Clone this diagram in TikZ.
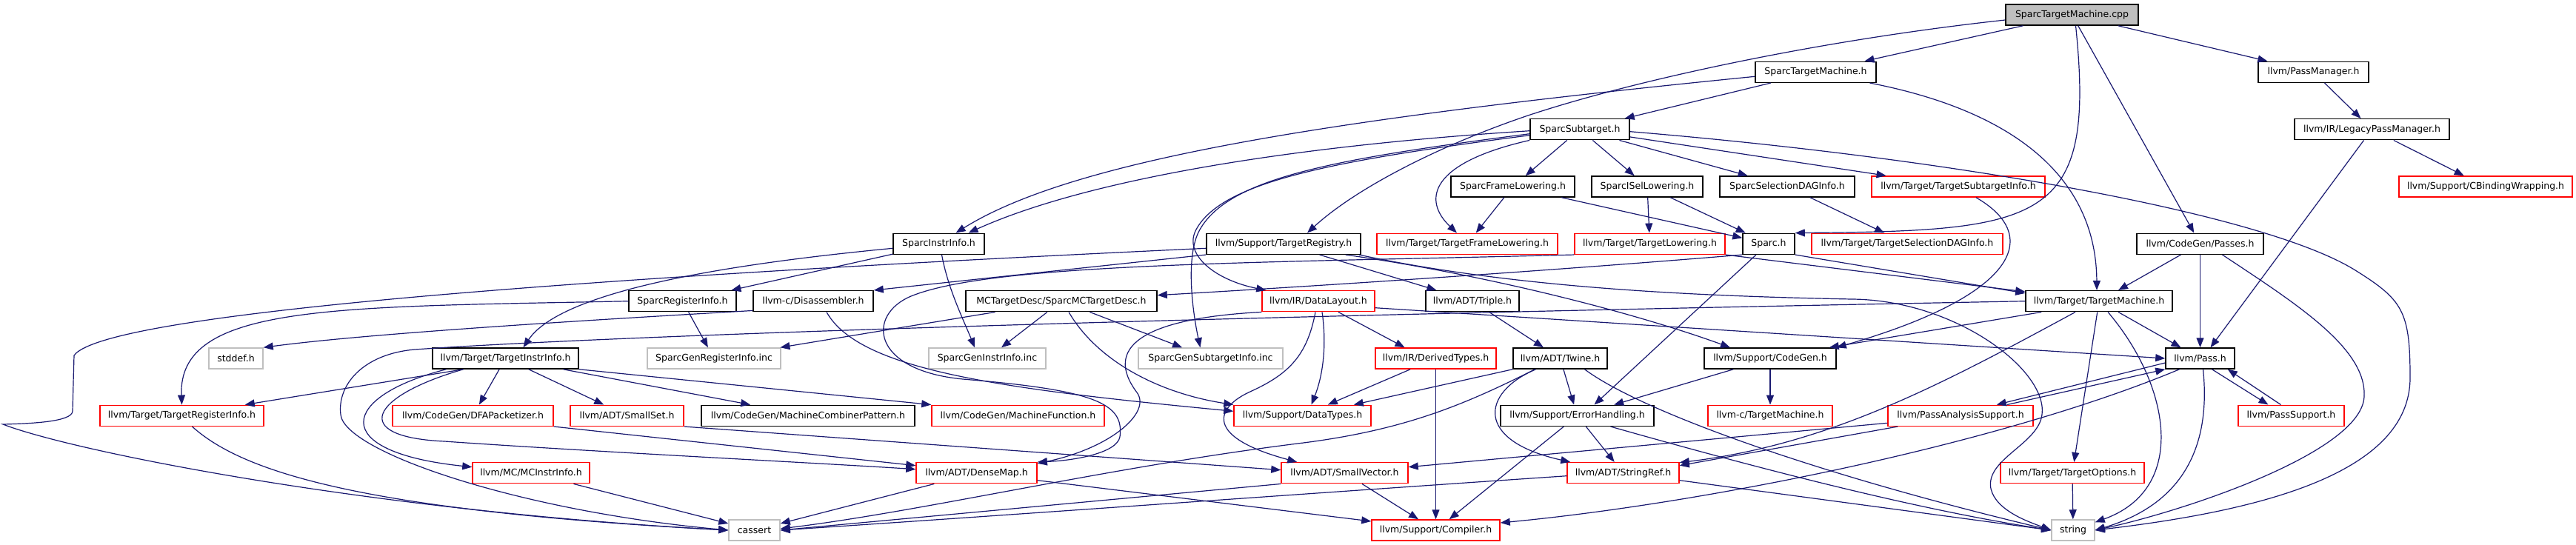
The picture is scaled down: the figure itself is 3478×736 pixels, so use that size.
\documentclass[tikz,border=0pt]{standalone}
\usepackage{fontspec}
\setmainfont{DejaVu Sans}
\usetikzlibrary{arrows.meta}
\definecolor{edgeblue}{HTML}{191970}
\definecolor{sysgray}{HTML}{BFBFBF}

\begin{document}
\begin{tikzpicture}[x=1pt, y=-1pt,
  box/.style={draw, line width=1.5pt, fill=white, minimum height=28pt, inner xsep=2pt, inner ysep=0pt, font=\fontsize{12.5pt}{15pt}\selectfont},
  trunc/.style={box, draw=red},
  sys/.style={box, draw=sysgray},
  cur/.style={box, fill=sysgray},
  arr/.style={-{Triangle[length=13pt, width=10pt]}, edgeblue, line width=1.2pt}
]
\fill[white] (0,0) rectangle (3478,736);
\useasboundingbox (0,0) rectangle (3478,736);

\node[cur, minimum width=179pt] (cpp) at (2797.5,20) {SparcTargetMachine.cpp};
\node[box, minimum width=163pt] (stm) at (2451.5,97.3) {SparcTargetMachine.h};
\node[box, minimum width=149pt] (pm) at (3123.5,97.3) {llvm/PassManager.h};
\node[box, minimum width=134pt] (sub) at (2133,174.7) {SparcSubtarget.h};
\node[box, minimum width=209pt] (lpm) at (3202.5,174.7) {llvm/IR/LegacyPassManager.h};
\node[box, minimum width=167pt] (sfl) at (2042.5,252) {SparcFrameLowering.h};
\node[box, minimum width=150pt] (sisel) at (2224,252) {SparcISelLowering.h};
\node[box, minimum width=182pt] (sdag) at (2413,252) {SparcSelectionDAGInfo.h};
\node[trunc, minimum width=234pt] (tsi) at (2644,252) {llvm/Target/TargetSubtargetInfo.h};
\node[trunc, minimum width=234pt] (cbw) at (3356,252) {llvm/Support/CBindingWrapping.h};
\node[box, minimum width=123pt] (sii) at (1267.5,329.3) {SparcInstrInfo.h};
\node[box, minimum width=208pt] (treg) at (1733,329.3) {llvm/Support/TargetRegistry.h};
\node[trunc, minimum width=244pt] (tfl) at (1981,329.3) {llvm/Target/TargetFrameLowering.h};
\node[trunc, minimum width=203pt] (tl) at (2227.5,329.3) {llvm/Target/TargetLowering.h};
\node[box, minimum width=70pt] (sparc) at (2388,329.3) {Sparc.h};
\node[trunc, minimum width=258pt] (tsdag) at (2575,329.3) {llvm/Target/TargetSelectionDAGInfo.h};
\node[box, minimum width=171pt] (passes) at (2970.5,329.3) {llvm/CodeGen/Passes.h};
\node[box, minimum width=145pt] (sri) at (921.5,406.7) {SparcRegisterInfo.h};
\node[box, minimum width=162pt] (dis) at (1098,406.7) {llvm-c/Disassembler.h};
\node[box, minimum width=258pt] (mctd) at (1433,406.7) {MCTargetDesc/SparcMCTargetDesc.h};
\node[trunc, minimum width=152pt] (dl) at (1780,406.7) {llvm/IR/DataLayout.h};
\node[box, minimum width=126pt] (triple) at (1988,406.7) {llvm/ADT/Triple.h};
\node[box, minimum width=198pt] (tm) at (2834,406.7) {llvm/Target/TargetMachine.h};
\node[sys, minimum width=73pt] (stddef) at (318.5,484) {stddef.h};
\node[box, minimum width=197pt] (tii) at (682.5,484) {llvm/Target/TargetInstrInfo.h};
\node[sys, minimum width=180pt] (sgri) at (964,484) {SparcGenRegisterInfo.inc};
\node[sys, minimum width=158pt] (sgii) at (1333,484) {SparcGenInstrInfo.inc};
\node[sys, minimum width=195pt] (sgsi) at (1634.5,484) {SparcGenSubtargetInfo.inc};
\node[trunc, minimum width=163pt] (dt) at (1938.5,484) {llvm/IR/DerivedTypes.h};
\node[box, minimum width=127pt] (twine) at (2106.5,484) {llvm/ADT/Twine.h};
\node[box, minimum width=178pt] (cg) at (2390,484) {llvm/Support/CodeGen.h};
\node[box, minimum width=93pt] (pass) at (2970.5,484) {llvm/Pass.h};
\node[trunc, minimum width=221pt] (tri) at (245.5,561.3) {llvm/Target/TargetRegisterInfo.h};
\node[trunc, minimum width=217pt] (dfa) at (638.5,561.3) {llvm/CodeGen/DFAPacketizer.h};
\node[trunc, minimum width=153pt] (sset) at (846.5,561.3) {llvm/ADT/SmallSet.h};
\node[box, minimum width=288pt] (mcp) at (1091,561.3) {llvm/CodeGen/MachineCombinerPattern.h};
\node[trunc, minimum width=233pt] (mf) at (1374.5,561.3) {llvm/CodeGen/MachineFunction.h};
\node[trunc, minimum width=185pt] (dtypes) at (1758.5,561.3) {llvm/Support/DataTypes.h};
\node[box, minimum width=207pt] (eh) at (2129.5,561.3) {llvm/Support/ErrorHandling.h};
\node[trunc, minimum width=168pt] (ctm) at (2390,561.3) {llvm-c/TargetMachine.h};
\node[trunc, minimum width=196pt] (pas) at (2647,561.3) {llvm/PassAnalysisSupport.h};
\node[trunc, minimum width=143pt] (ps) at (3093.5,561.3) {llvm/PassSupport.h};
\node[trunc, minimum width=158pt] (mcii) at (717,638.7) {llvm/MC/MCInstrInfo.h};
\node[trunc, minimum width=163pt] (dm) at (1318.5,638.7) {llvm/ADT/DenseMap.h};
\node[trunc, minimum width=171pt] (sv) at (1815.5,638.7) {llvm/ADT/SmallVector.h};
\node[trunc, minimum width=151pt] (sref) at (2191.5,638.7) {llvm/ADT/StringRef.h};
\node[trunc, minimum width=194pt] (topt) at (2798,638.7) {llvm/Target/TargetOptions.h};
\node[sys, minimum width=69pt] (cassert) at (1018.5,716) {cassert};
\node[trunc, minimum width=173pt] (comp) at (1938.5,716) {llvm/Support/Compiler.h};
\node[sys, minimum width=58pt] (string) at (2799,716) {string};

\draw[arr] (cpp) -- (stm);
\draw[arr] ([yshift=-7pt]cpp.west) .. controls (2450,55) and (2200,110) .. (2060,157) .. controls (1940,198) and (1830,255) .. ([xshift=32pt]treg.north);
\draw[arr] ([xshift=5pt]cpp.south) .. controls (2830,300) and (2760,312) .. (sparc.north east);
\draw[arr] (cpp) -- (passes);
\draw[arr] (cpp) -- (pm);
\draw[arr] (stm) -- (sub);
\draw[arr] ([yshift=-6pt]stm.west) .. controls (1800,160) and (1450,215) .. ([xshift=23pt]sii.north);
\draw[arr] ([xshift=73pt]stm.south) .. controls (2720,150) and (2830,240) .. ([xshift=-3pt]tm.north);
\draw[arr] (pm) -- (lpm);
\draw[arr] (lpm) -- (cbw);
\draw[arr] ([xshift=-11pt]lpm.south) -- ([xshift=14pt]pass.north);
\draw[arr] (sub) -- (sfl);
\draw[arr] (sub) -- (sisel);
\draw[arr] (sub) -- (sdag);
\draw[arr] (sub) -- (tsi);
\draw[arr] ([yshift=-3pt]sub.east) .. controls (2650,215) and (3060,290) .. (3180,365) .. controls (3244,405) and (3254,420) .. (3254,510) .. controls (3254,640) and (3050,690) .. (string.east);
\draw[arr] ([yshift=-2pt]sub.west) .. controls (1700,200) and (1450,250) .. ([xshift=40pt]sii.north);
\draw[arr] (sub.south west) .. controls (1930,220) and (1920,270) .. ([xshift=-14pt]tfl.north);
\draw[arr] ([yshift=-6pt]sub.west) .. controls (1800,215) and (1660,240) .. (1620,310) .. controls (1600,345) and (1610,420) .. ([xshift=-14pt]sgsi.north);
\draw[arr] ([yshift=-8pt]sub.west) .. controls (1800,217) and (1650,245) .. (1615,310) .. controls (1597,343) and (1640,378) .. ([xshift=6pt]dl.north west);
\draw[arr] (sfl) -- (tfl);
\draw[arr] (sfl) -- (sparc);
\draw[arr] (sisel) -- (tl);
\draw[arr] (sisel) -- (sparc);
\draw[arr] (sdag) -- (tsdag);
\draw[arr] ([xshift=24pt]tsi.south) .. controls (2760,320) and (2720,400) .. (cg.north east);
\draw[arr] (sii) -- (sri);
\draw[arr] ([yshift=-6pt]sii.west) .. controls (1000,355) and (760,390) .. ([xshift=24pt]tii.north);
\draw[arr] ([xshift=4pt]sii.south) .. controls (1280,390) and (1300,430) .. ([xshift=-17pt]sgii.north);
\draw[arr] (treg.south west) -- (dis.north east);
\draw[arr] (treg) -- (triple);
\draw[arr] ([xshift=-21pt]treg.south east) .. controls (2000,370) and (2200,420) .. ([xshift=-54pt]cg.north);
\draw[arr] ([xshift=-3pt]treg.south east) .. controls (2050,390) and (2300,400) .. (2500,404) .. controls (2640,405) and (2765,500) .. (2757,560) .. controls (2752,600) and (2680,620) .. (2688,660) .. controls (2695,690) and (2740,705) .. (string.west);
\draw[arr] ([yshift=-6pt]treg.west) .. controls (1100,360) and (150,410) .. (100,480) -- (98,555) .. controls (98,570) and (40,572) .. (4,573) .. controls (100,610) and (500,690) .. (cassert.west);
\draw[arr] (tl.south east) -- ([yshift=-2pt]tm.north west);
\draw[arr] (tl.south west) .. controls (1700,355) and (1340,355) .. (1230,400) .. controls (1170,425) and (1175,500) .. (1300,512) .. controls (1480,527) and (1518,545) .. (1512,590) .. controls (1508,612) and (1450,622) .. (dm.north east);
\draw[arr] (sparc.south west) .. controls (2100,365) and (1800,385) .. ([yshift=8pt]mctd.east);
\draw[arr] ([xshift=-17pt]sparc.south) -- ([xshift=23pt]eh.north);
\draw[arr] (sparc.south east) -- ([yshift=-4pt]tm.north west);
\draw[arr] (passes) -- (pass);
\draw[arr] (passes) -- (tm);
\draw[arr] ([xshift=30pt]passes.south) .. controls (3100,410) and (3195,470) .. (3192,535) .. controls (3190,610) and (2950,690) .. (string.east);
\draw[arr] (sri) -- (sgri);
\draw[arr] (sri.west) .. controls (450,415) and (240,410) .. (tri.north);
\draw[arr] ([yshift=2pt]dis.south west) .. controls (800,432) and (500,450) .. (stddef.north east);
\draw[arr] ([xshift=18pt]dis.south) .. controls (1160,500) and (1350,525) .. ([yshift=6pt]dtypes.west);
\draw[arr] (mctd) -- (sgri);
\draw[arr] (mctd) -- (sgii);
\draw[arr] (mctd) -- (sgsi);
\draw[arr] ([xshift=10pt]mctd.south) .. controls (1480,485) and (1560,530) .. (dtypes.north west);
\draw[arr] ([xshift=27pt]dl.south) -- ([xshift=-42pt]dt.north);
\draw[arr] ([xshift=5pt]dl.south) .. controls (1792,470) and (1785,510) .. ([xshift=12pt]dtypes.north);
\draw[arr] ([xshift=-4pt]dl.south) .. controls (1765,480) and (1740,505) .. (1690,528) .. controls (1640,550) and (1625,590) .. ([xshift=22pt]sv.north west);
\draw[arr] (dl.south west) .. controls (1540,430) and (1490,470) .. (1535,530) .. controls (1555,557) and (1500,605) .. ([yshift=-2pt]dm.north east);
\draw[arr] ([yshift=-9pt]dl.east) -- (pass.west);
\draw[arr] (triple) -- (twine);
\draw[arr] ([xshift=22pt]tm.south west) -- ([xshift=-10pt]cg.north east);
\draw[arr] (tm) -- (pass);
\draw[arr] (tm) -- (topt);
\draw[arr] ([xshift=12pt]tm.south) .. controls (2930,520) and (2955,660) .. ([yshift=-4pt]string.north east);
\draw[arr] ([xshift=-32pt]tm.south) .. controls (2620,520) and (2470,600) .. ([yshift=14pt]sref.east);
\draw[arr] (tm.west) .. controls (1500,430) and (800,455) .. (560,472) .. controls (490,478) and (455,520) .. (460,560) .. controls (465,610) and (700,690) .. (cassert.west);
\draw[arr] ([xshift=-57pt]tii.south) -- ([xshift=-26pt]tri.north east);
\draw[arr] (tii) -- (dfa);
\draw[arr] (tii) -- (sset);
\draw[arr] (tii) -- (mcp);
\draw[arr] (tii.south east) -- (mf.north west);
\draw[arr] ([xshift=-80pt]tii.south) .. controls (460,535) and (440,610) .. ([yshift=8pt]mcii.west);
\draw[arr] ([xshift=-57pt]tii.south) .. controls (500,535) and (470,590) .. (600,596) .. controls (800,610) and (1100,625) .. ([yshift=5pt]dm.west);
\draw[arr] (dt) -- (dtypes);
\draw[arr] (dt) -- (comp);
\draw[arr] (twine.south west) -- ([xshift=-24pt]dtypes.north east);
\draw[arr] (twine) -- (eh);
\draw[arr] ([xshift=-33pt]twine.south) .. controls (2000,530) and (1990,595) .. ([xshift=5pt]sref.north west);
\draw[arr] ([xshift=-34pt]twine.south) .. controls (1980,545) and (1900,580) .. (1760,598) .. controls (1500,630) and (1250,690) .. ([yshift=2pt]cassert.east);
\draw[arr] ([xshift=33pt]twine.south) .. controls (2215,555) and (2450,640) .. (string.west);
\draw[arr] (cg) -- (eh);
\draw[arr] (cg) -- (ctm);
\draw[arr] ([yshift=-6pt]pass.west) -- ([xshift=-50pt]pas.north east);
\draw[arr] ([xshift=16pt]pass.south) -- ([xshift=-31pt]ps.north);
\draw[arr] ([xshift=-28pt]pass.south) .. controls (2700,600) and (2300,680) .. ([yshift=10pt]comp.east);
\draw[arr] ([xshift=4pt]pass.south) .. controls (2985,600) and (2950,680) .. (string.east);
\draw[arr] ([xshift=14pt]tri.south) .. controls (330,640) and (500,690) .. (cassert.west);
\draw[arr] (dfa.south east) -- ([yshift=10pt]dm.west);
\draw[arr] (sset.south east) -- ([yshift=4pt]sv.west);
\draw[arr] (eh) -- (comp);
\draw[arr] (eh) -- (sref);
\draw[arr] ([xshift=45pt]eh.south) .. controls (2400,640) and (2600,690) .. (string.west);
\draw[arr] ([xshift=-36pt]pas.north east) -- (pass.south west);
\draw[arr] ([yshift=-10pt]pas.west) -- ([yshift=8pt]sv.east);
\draw[arr] ([xshift=14pt]pas.south west) -- ([yshift=10pt]sref.east);
\draw[arr] ([xshift=-14pt]ps.north) -- ([xshift=-10pt]pass.south east);
\draw[arr] (mcii) -- (cassert);
\draw[arr] (dm) -- (cassert);
\draw[arr] ([yshift=-10pt]dm.east) -- ([yshift=12pt]comp.west);
\draw[arr] (sv.south west) -- (cassert.east);
\draw[arr] (sv) -- (comp);
\draw[arr] ([yshift=-4pt]sref.west) .. controls (1800,664) and (1300,700) .. (cassert.east);
\draw[arr] ([yshift=-10pt]sref.east) -- (string.west);
\draw[arr] (topt) -- (string);
\end{tikzpicture}
\end{document}
